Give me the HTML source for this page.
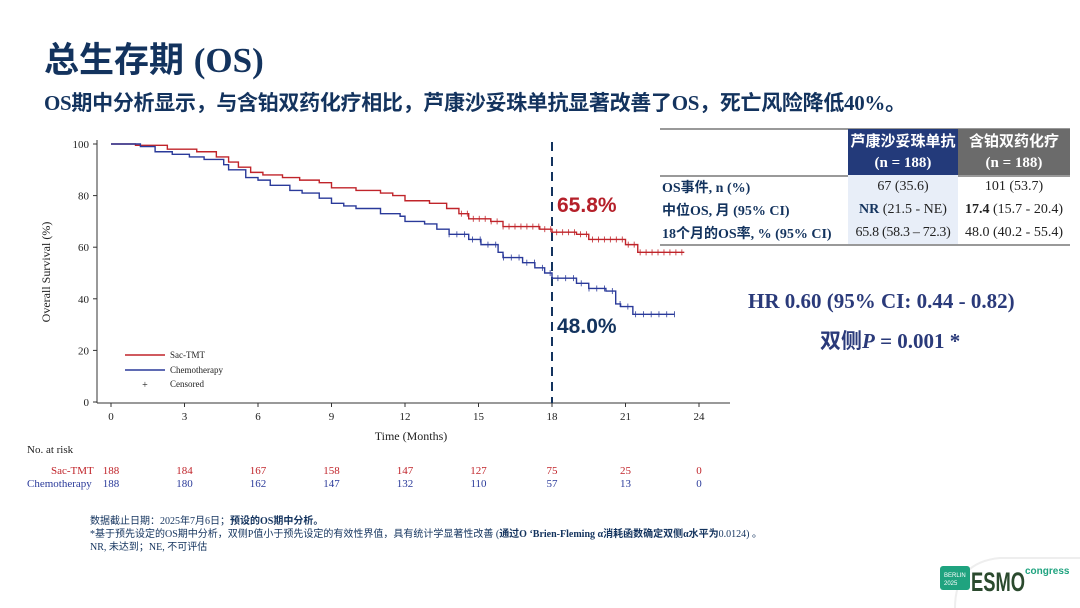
<!DOCTYPE html>
<html><head><meta charset="utf-8"><style>
body{margin:0;width:1080px;height:608px;background:#fff;position:relative;overflow:hidden;font-family:"Liberation Serif","Noto Serif CJK SC",serif}
.a{position:absolute;white-space:nowrap}
.t1{left:44px;top:32px;font:bold 35px "Liberation Sans","Noto Sans CJK SC",sans-serif;color:#13335e}
.t1 span{font-family:"Liberation Serif",serif}
.t2{left:44px;top:87px;font:bold 21px "Liberation Serif","Noto Sans CJK SC",serif;color:#13335e;letter-spacing:-0.3px}
table{position:absolute;left:660px;top:129px;border-collapse:collapse;font-size:14px;color:#222;table-layout:fixed;width:410px}
td{padding:0 2px;height:23px;text-align:center;overflow:hidden}
.hb{background:#233a7a;color:#fff;font-weight:bold;font-family:"Liberation Sans","Noto Sans CJK SC",sans-serif;font-size:15px}
.hg{background:#6b6b6b;color:#fff;font-weight:bold;font-family:"Liberation Sans","Noto Sans CJK SC",sans-serif;font-size:15px}
.lab{text-align:left;font-weight:bold;color:#13335e;font-family:"Liberation Serif","Noto Sans CJK SC",serif}
.lb{background:#e8eef8}
.nar{font-size:11px;font-family:"Liberation Serif",serif}
.ft{left:90px;font-size:10px;color:#13335e;font-family:"Liberation Serif","Noto Sans CJK SC",serif}
</style></head><body>
<div class="a t1">总生存期 <span>(OS)</span></div>
<div class="a t2">OS期中分析显示，与含铂双药化疗相比，芦康沙妥珠单抗显著改善了OS，死亡风险降低40%。</div>

<svg class="a" style="left:0;top:0" width="1080" height="608" id="s">
<g font-family="Liberation Serif" font-size="11" fill="#222">
<line x1="97" y1="140" x2="97" y2="403" stroke="#333"/>
<line x1="97" y1="403" x2="730" y2="403" stroke="#333"/>
<g id="yt"></g><g id="xt"></g>
<text x="411" y="440" font-size="12" text-anchor="middle">Time (Months)</text>
<text transform="translate(50,272) rotate(-90)" font-size="12" text-anchor="middle">Overall Survival (%)</text>
<line x1="125" y1="355" x2="165" y2="355" stroke="#c0242a" stroke-width="1.5"/>
<line x1="125" y1="370" x2="165" y2="370" stroke="#2a3a9a" stroke-width="1.5"/>
<text x="145" y="388" font-size="10" text-anchor="middle">+</text>
<text x="170" y="358" font-size="9">Sac-TMT</text>
<text x="170" y="373" font-size="9">Chemotherapy</text>
<text x="170" y="387" font-size="9">Censored</text>
</g>
<line x1="552" y1="142" x2="552" y2="403" stroke="#13335e" stroke-width="2" stroke-dasharray="9,6"/>
<path id="r" fill="none" stroke="#c0242a" stroke-width="1.4"/>
<path id="b" fill="none" stroke="#2a3a9a" stroke-width="1.4"/>
<g id="cr" stroke="#c0242a" stroke-width="0.8"></g>
<g id="cb" stroke="#2a3a9a" stroke-width="0.8"></g>
<text x="557" y="212" font-family="Liberation Sans" font-weight="bold" font-size="21" fill="#b5202a">65.8%</text>
<text x="557" y="333" font-family="Liberation Sans" font-weight="bold" font-size="21" fill="#13335e">48.0%</text>
<line x1="660" y1="129" x2="1070" y2="129" stroke="#333"/>
<line x1="660" y1="176" x2="1070" y2="176" stroke="#333"/>
<line x1="660" y1="245" x2="1070" y2="245" stroke="#333"/>
<path d="M955 608 Q955 562 1000 558 L1080 558" fill="none" stroke="#eee" stroke-width="2"/>
<rect x="940" y="566" width="30" height="24" rx="3" fill="#1fa37f"/>
<text x="944" y="577" font-family="Liberation Sans" font-size="6" fill="#fff">BERLIN</text>
<text x="944" y="585" font-family="Liberation Sans" font-size="6" fill="#fff">2025</text>
<text x="971" y="591" font-family="Liberation Sans" font-weight="bold" font-size="27" fill="#2b4a2e" textLength="54" lengthAdjust="spacingAndGlyphs">ESMO</text>
<text x="1025" y="574" font-family="Liberation Sans" font-weight="bold" font-size="10" fill="#1fa37f">congress</text>
</svg>

<table>
<colgroup><col style="width:188px"><col style="width:110px"><col style="width:112px"></colgroup>
<tr><td></td><td class="hb">芦康沙妥珠单抗</td><td class="hg">含铂双药化疗</td></tr>
<tr><td></td><td class="hb" style="font-family:'Liberation Serif'">(n = 188)</td><td class="hg" style="font-family:'Liberation Serif'">(n = 188)</td></tr>
<tr><td class="lab">OS事件, n (%)</td><td class="lb">67 (35.6)</td><td>101 (53.7)</td></tr>
<tr><td class="lab">中位OS, 月 (95% CI)</td><td class="lb"><b style="color:#13335e">NR</b> (21.5 - NE)</td><td><b>17.4</b> (15.7 - 20.4)</td></tr>
<tr><td class="lab">18个月的OS率, % (95% CI)</td><td class="lb" style="letter-spacing:-0.3px">65.8 (58.3 – 72.3)</td><td>48.0 (40.2 - 55.4)</td></tr>
</table>

<div class="a" style="left:748px;top:289px;font:bold 21px 'Liberation Serif',serif;color:#2a3a7a">HR 0.60 (95% CI: 0.44 - 0.82)</div>
<div class="a" style="left:820px;top:325px;font:bold 21px 'Liberation Serif','Noto Sans CJK SC',serif;color:#2a3a7a">双侧<i>P</i> = 0.001 *</div>

<div class="a nar" style="left:27px;top:444px;color:#222">No. at risk</div>
<div class="a nar" style="left:51px;top:465px;color:#c0242a">Sac-TMT</div>
<div class="a nar" style="left:27px;top:478px;color:#2a3a9a">Chemotherapy</div>
<div id="nr"></div>

<div class="a ft" style="top:512px">数据截止日期：2025年7月6日；<b>预设的OS期中分析。</b></div>
<div class="a ft" style="top:525px">*基于预先设定的OS期中分析，双侧P值小于预先设定的有效性界值，具有统计学显著性改善 (<b>通过O ‘Brien-Fleming α消耗函数确定双侧α水平为</b>0.0124) 。</div>
<div class="a ft" style="top:538px">NR, 未达到；NE, 不可评估</div>

<script>
var X=m=>111+m*24.5,Y=p=>402-p*2.58,ns="http://www.w3.org/2000/svg";
function el(t,a,p){var e=document.createElementNS(ns,t);for(var k in a)e.setAttribute(k,a[k]);document.getElementById(p).appendChild(e);return e}
for(var v=0;v<=100;v+=20){el("line",{x1:93,x2:97,y1:Y(v),y2:Y(v),stroke:"#333"},"yt");var t=el("text",{x:89,y:Y(v)+4,"text-anchor":"end"},"yt");t.textContent=v}
var R=[188,184,167,158,147,127,75,25,0],B=[188,180,162,147,132,110,57,13,0],h="";
for(var m=0;m<=24;m+=3){el("line",{x1:X(m),x2:X(m),y1:403,y2:407,stroke:"#333"},"xt");var t=el("text",{x:X(m),y:420,"text-anchor":"middle"},"xt");t.textContent=m;
var i=m/3;h+='<div class="a nar" style="left:'+(X(m)-12)+'px;width:24px;text-align:center;top:465px;color:#c0242a">'+R[i]+'</div><div class="a nar" style="left:'+(X(m)-12)+'px;width:24px;text-align:center;top:478px;color:#2a3a9a">'+B[i]+'</div>'}
document.getElementById("nr").innerHTML=h;
function step(pts,id,end){var d="M"+X(0)+" "+Y(100);pts.forEach(q=>{d+=" H"+X(q[0])+" V"+Y(q[1])});d+=" H"+X(end);document.getElementById(id).setAttribute("d",d)}
var rp=[[1,99.5],[2.3,98],[3.5,97],[4.3,95],[4.8,93],[5.2,91],[5.7,89],[6.2,88],[7,87],[7.7,86],[8.5,85],[9,83],[10,82],[11,81],[11.5,80],[12,78],[13,77],[13.7,75],[14.2,73],[14.6,71],[15.5,70],[16,68],[17.5,67],[18,65.8],[19,65],[19.5,63],[21,61],[21.5,58]];
var bp=[[1.2,99],[1.8,97],[2.5,96],[3.2,95],[3.8,94],[4.6,92],[4.8,90],[5.5,87],[6,86],[6.5,84],[7.3,82],[7.8,81],[8.5,79],[9,77],[9.5,76],[10,75],[11,73],[11.8,72],[12,70],[12.8,69],[13.3,67],[13.8,65],[14.6,63],[15.1,61],[15.8,58],[16,56],[16.8,54],[17.3,52],[17.7,50],[18,48],[19,46],[19.5,44],[20.2,43],[20.6,38],[20.8,37],[21.3,34]];
step(rp,"r",23.4);step(bp,"b",23);
function cens(id,pts,a,b,n){for(var k=0;k<n;k++){var m=a+(b-a)*k/(n-1),v=100;pts.forEach(q=>{if(q[0]<=m)v=q[1]});el("line",{x1:X(m),x2:X(m),y1:Y(v)-3,y2:Y(v)+3},id)}}
cens("cr",rp,14.3,23.3,38);cens("cb",bp,13.8,23,30);
</script>
</body></html>
